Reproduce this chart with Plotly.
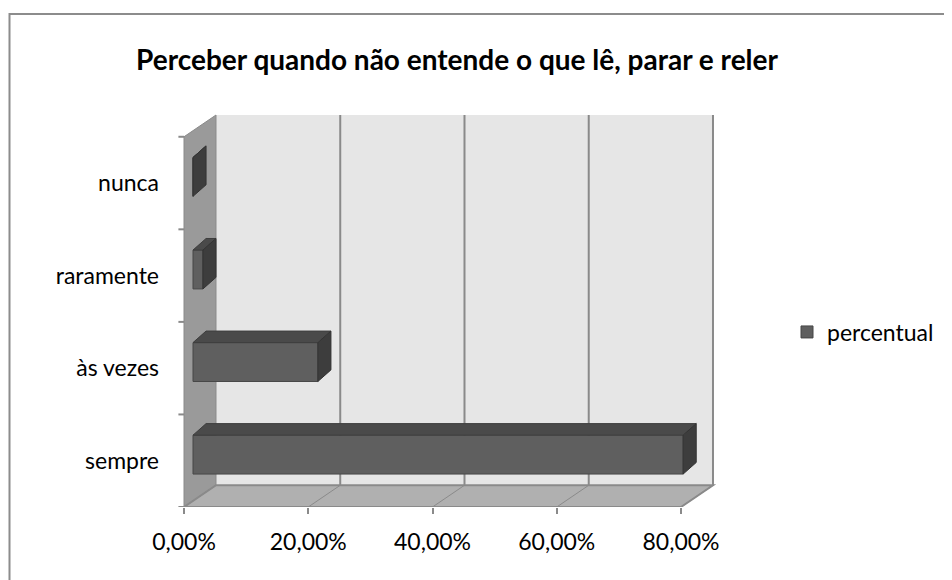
import plotly.graph_objects as go

# dados
categorias = ["sempre", "às vezes", "raramente", "nunca"]
percentual = [0.789, 0.201, 0.016, 0.0]
ticks_x = [0, 0.2, 0.4, 0.6, 0.8]
ticks_txt = ["0,00%", "20,00%", "40,00%", "60,00%", "80,00%"]

FONT = "Lato"
X_MAX = 0.8
# profundidade do "3D" (em unidades de eixo)
DX, DY = 0.0515, 0.235
# face frontal das barras fica um pouco para dentro
B0X, B0Y = 0.0145, 0.066
BDX, BDY = 0.021, 0.125
BAR_W = 0.42

ypos = list(range(len(categorias)))
n = len(categorias)

fig = go.Figure()

# face frontal
fig.add_trace(
    go.Bar(
        y=ypos,
        x=percentual,
        base=B0X,
        orientation="h",
        width=BAR_W,
        offset=-BAR_W / 2 + B0Y,
        marker=dict(color="#5f5f5f", line=dict(color="#474747", width=1)),
        name="percentual",
        showlegend=True,
    )
)

# topo e lateral das barras
top_x, top_y, side_x, side_y = [], [], [], []
for i, v in zip(ypos, percentual):
    yt = i + B0Y + BAR_W / 2
    yb = yt - BAR_W
    top_x += [B0X, B0X + v, B0X + v + BDX, B0X + BDX, B0X, None]
    top_y += [yt, yt, yt + BDY, yt + BDY, yt, None]
    side_x += [B0X + v, B0X + v, B0X + v + BDX, B0X + v + BDX, B0X + v, None]
    side_y += [yb, yt, yt + BDY, yb + BDY, yb, None]

fig.add_trace(
    go.Scatter(
        x=top_x, y=top_y, fill="toself", fillcolor="#4a4a4a", mode="lines",
        line=dict(color="#3e3e3e", width=1), showlegend=False, hoverinfo="skip",
    )
)
fig.add_trace(
    go.Scatter(
        x=side_x, y=side_y, fill="toself", fillcolor="#3d3d3d", mode="lines",
        line=dict(color="#333333", width=1), showlegend=False, hoverinfo="skip",
    )
)

shapes = []
grid = "#8a8a8a"
lo, hi = -0.5, n - 0.5

# parede do fundo
shapes.append(dict(type="rect", layer="below", x0=DX, x1=X_MAX + DX, y0=lo + DY, y1=hi + DY,
                   fillcolor="#e6e6e6", line=dict(width=0)))
for t in ticks_x[1:]:
    shapes.append(dict(type="line", layer="below", x0=t + DX, x1=t + DX, y0=lo + DY, y1=hi + DY,
                       line=dict(color=grid, width=2)))
# parede lateral
shapes.append(dict(type="path", layer="below",
                   path=f"M 0,{lo} L 0,{hi} L {DX},{hi + DY} L {DX},{lo + DY} Z",
                   fillcolor="#9a9a9a", line=dict(color=grid, width=1)))
# piso
shapes.append(dict(type="path", layer="below",
                   path=f"M 0,{lo} L {X_MAX},{lo} L {X_MAX + DX},{lo + DY} L {DX},{lo + DY} Z",
                   fillcolor="#b0b0b0", line=dict(color=grid, width=2)))
for t in ticks_x:
    shapes.append(dict(type="line", layer="below", x0=t, x1=t + DX, y0=lo, y1=lo + DY,
                       line=dict(color=grid, width=1)))
# marcas do eixo das categorias
for k in range(n + 1):
    shapes.append(dict(type="line", layer="below", x0=-0.009, x1=0, y0=lo + k, y1=lo + k,
                       line=dict(color=grid, width=2)))

# a página tem 8px de margem no body: tudo é deslocado
OFF = 8
W, H = 952 - OFF, 580 - OFF
# área do gráfico em pixels da janela
L, R, T, B = 172, 740, 109, 507
pw, ph = R - L, B - T

# moldura do gráfico
shapes.append(dict(type="rect", xref="paper", yref="paper",
                   x0=(9.5 - L) / pw, x1=(1000 - L) / pw, y0=(B - 14) / ph, y1=(B - 640) / ph,
                   line=dict(color="#8c8c8c", width=2), fillcolor="rgba(0,0,0,0)"))

px_per_x = 497 / X_MAX
fig.update_layout(
    width=W,
    height=H,
    margin=dict(l=L - OFF, r=W - (R - OFF), t=T - OFF, b=H - (B - OFF)),
    paper_bgcolor="white",
    plot_bgcolor="white",
    font=dict(family=FONT, size=23, color="black"),
    title=dict(
        text="<b>Perceber quando não entende o que lê, parar e reler</b>",
        x=(457 - OFF) / W, xanchor="center", y=1 - (60 - OFF) / H, yanchor="middle",
        yref="container", font=dict(family=FONT, size=28, color="black"),
    ),
    shapes=shapes,
    showlegend=True,
    legend=dict(
        x=(787 - L) / pw, xanchor="left", y=(B - 332) / ph, yanchor="middle",
        font=dict(family=FONT, size=23, color="black"), bgcolor="rgba(0,0,0,0)",
    ),
    xaxis=dict(
        range=[(L - 184) / px_per_x, (R - 184) / px_per_x],
        tickvals=ticks_x, ticktext=ticks_txt,
        ticks="outside", ticklen=6, tickwidth=2, tickcolor=grid,
        ticklabelstandoff=8,
        showgrid=False, zeroline=False, showline=False, fixedrange=True,
    ),
    yaxis=dict(
        range=[lo, 3.8],
        tickvals=ypos, ticktext=categorias,
        ticks="", ticklabelstandoff=12,
        showgrid=False, zeroline=False, showline=False, fixedrange=True,
    ),
)

fig.write_html("out.html")
